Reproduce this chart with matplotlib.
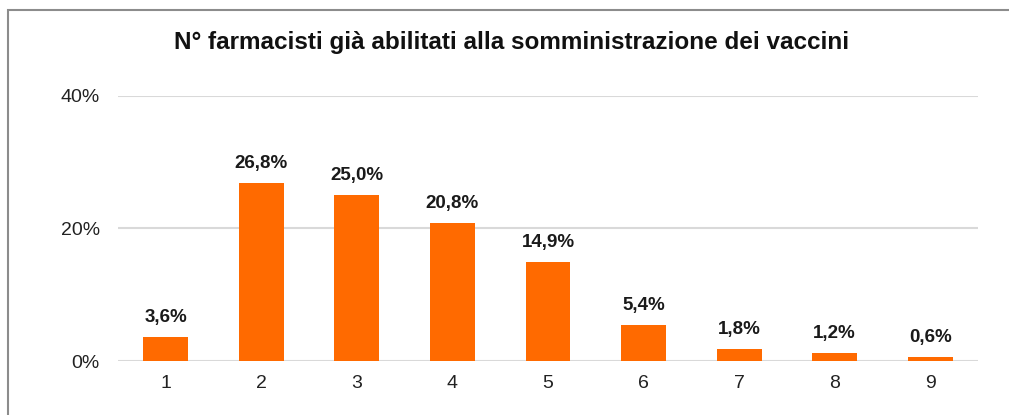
import matplotlib.pyplot as plt
from matplotlib.patches import Rectangle

plt.rcParams['font.family'] = ['Liberation Sans', 'DejaVu Sans']

categories = ['1', '2', '3', '4', '5', '6', '7', '8', '9']
values = [3.6, 26.8, 25.0, 20.8, 14.9, 5.4, 1.8, 1.2, 0.6]
labels = ['3,6%', '26,8%', '25,0%', '20,8%', '14,9%', '5,4%', '1,8%', '1,2%', '0,6%']
yticks = [0, 20, 40]

W, H = 1009, 415
fig = plt.figure(figsize=(W / 100, H / 100), dpi=100)

# chart frame (left and top edges visible, rest cut off)
fig.add_artist(Rectangle((8 / W, -0.1), 1.1, (H - 10) / H + 0.1,
                         transform=fig.transFigure, fill=False,
                         edgecolor='#8c8c8c', linewidth=1.5))

ax = fig.add_axes([118 / W, (H - 361) / H, (978 - 118) / W, (361 - 96) / H])
x = list(range(len(categories)))
ax.bar(x, values, width=0.47, color='#FF6A00', zorder=3)

for xi, v, lab in zip(x, values, labels):
    ax.annotate(lab, (xi, v), xytext=(0, 8), textcoords='offset points',
                ha='center', va='bottom', fontsize=13.5, fontweight='bold',
                color='#1a1a1a')

ax.set_xlim(-0.5, len(categories) - 0.5)
ax.set_ylim(0, 40)
ax.set_yticks(yticks)
ax.set_yticklabels([f'{t}%' for t in yticks])
ax.set_xticks(x)
ax.set_xticklabels(categories)
ax.grid(axis='y', color='#d9d9d9', linewidth=1.5, zorder=0)
ax.tick_params(length=0, labelsize=14, colors='#222222')
ax.tick_params(axis='y', pad=13)
ax.tick_params(axis='x', pad=10)
for s in ax.spines.values():
    s.set_visible(False)

fig.text(512 / W, (H - 42) / H, 'N° farmacisti già abilitati alla somministrazione dei vaccini',
         ha='center', va='center', fontsize=17.5, fontweight='bold', color='#111111')

fig.savefig('out.png', dpi=100, facecolor='white')
